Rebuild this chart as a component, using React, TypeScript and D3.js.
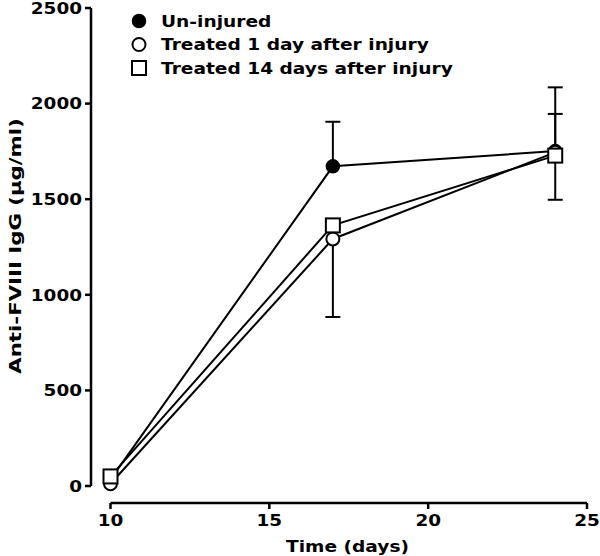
import React from "react";
import * as d3 from "d3";

const days = [10, 17, 24];
const seriesNames = ["Un-injured", "Treated 1 day after injury", "Treated 14 days after injury"];
const seriesMarkers = ["filledCircle", "openCircle", "openSquare"];
const uninjured = [35, 1672, 1752];
const treated1 = [12, 1292, 1745];
const treated14 = [50, 1363, 1728];
// error bar ends as visible in the picture (null = not visible)
const uninjuredErrHigh = [null, 1905, 2085];
const uninjuredErrLow = [null, null, null];
const treated1ErrHigh = [null, null, null];
const treated1ErrLow = [null, 884, 1497];
const treated14ErrHigh = [null, null, 1946];
const treated14ErrLow = [null, null, null];
const yTicks = [0, 500, 1000, 1500, 2000, 2500];
const xTicks = [10, 15, 20, 25];

const W = 600;
const H = 556;
const FONT = "'DejaVu Sans', Verdana, sans-serif";

function SText(props: {
  x: number;
  y: number;
  sx: number;
  size: number;
  anchor?: string;
  rotate?: number;
  children: React.ReactNode;
}) {
  const { x, y, sx, size, anchor = "start", rotate = 0, children } = props;
  return (
    <g transform={`translate(${x},${y}) rotate(${rotate}) scale(${sx},1)`}>
      <text x={0} y={0} dy="0.36em" textAnchor={anchor} fontSize={size} fontWeight="bold">
        {children}
      </text>
    </g>
  );
}

export default function App() {
  const x = d3.scaleLinear().domain([10, 25]).range([110.5, 587]);
  const y = d3.scaleLinear().domain([0, 2500]).range([486, 8]);
  const yAxisX = 91;
  const xAxisY = 503;

  const series = [
    { name: seriesNames[0], marker: seriesMarkers[0], values: uninjured, hi: uninjuredErrHigh, lo: uninjuredErrLow },
    { name: seriesNames[1], marker: seriesMarkers[1], values: treated1, hi: treated1ErrHigh, lo: treated1ErrLow },
    { name: seriesNames[2], marker: seriesMarkers[2], values: treated14, hi: treated14ErrHigh, lo: treated14ErrLow },
  ];

  const line = d3
    .line<number>()
    .x((_, i) => x(days[i]))
    .y((d) => y(d));

  const marker = (type: string, cx: number, cy: number, key: string) => {
    if (type === "filledCircle")
      return <circle key={key} cx={cx} cy={cy} r={6.5} fill="#000" stroke="#000" strokeWidth={1.5} />;
    if (type === "openCircle")
      return <circle key={key} cx={cx} cy={cy} r={6.5} fill="#fff" stroke="#000" strokeWidth={2} />;
    return <rect key={key} x={cx - 7} y={cy - 7} width={14} height={14} fill="#fff" stroke="#000" strokeWidth={2} />;
  };

  const capW = 7.5;

  return (
    <svg width={W} height={H} style={{ position: "absolute", left: 0, top: 0, background: "#fff" }} fontFamily={FONT}>
      <rect x={0} y={0} width={W} height={H} fill="#fff" />
      {/* Y axis */}
      <line x1={yAxisX} x2={yAxisX} y1={y(2500)} y2={y(0)} stroke="#000" strokeWidth={2.5} />
      {yTicks.map((t) => (
        <g key={"yt" + t}>
          <line x1={yAxisX - 6} x2={yAxisX} y1={y(t)} y2={y(t)} stroke="#000" strokeWidth={2.5} />
          <SText x={yAxisX - 9} y={y(t)} sx={1.15} size={16} anchor="end">
            {t}
          </SText>
        </g>
      ))}
      <SText x={15} y={246} sx={1.33} size={16} anchor="middle" rotate={-90}>
        Anti-FVIII IgG (μg/ml)
      </SText>
      {/* X axis */}
      <line x1={x(10)} x2={x(25)} y1={xAxisY} y2={xAxisY} stroke="#000" strokeWidth={2.5} />
      {xTicks.map((t) => (
        <g key={"xt" + t}>
          <line x1={x(t)} x2={x(t)} y1={xAxisY} y2={xAxisY + 6} stroke="#000" strokeWidth={2.5} />
          <SText x={x(t)} y={520} sx={1.15} size={16} anchor="middle">
            {t}
          </SText>
        </g>
      ))}
      <SText x={347.5} y={546} sx={1.2} size={15.5} anchor="middle">
        Time (days)
      </SText>
      {/* lines */}
      {series.map((s) => (
        <path key={"l" + s.name} d={line(s.values) || ""} fill="none" stroke="#000" strokeWidth={2} />
      ))}
      {/* error bars */}
      {series.map((s) =>
        days.map((dd, i) => {
          const cx = x(dd);
          const out: React.ReactNode[] = [];
          const hi = s.hi[i];
          const lo = s.lo[i];
          if (hi != null) {
            out.push(
              <g key={`eh${s.name}${i}`}>
                <line x1={cx} x2={cx} y1={y(s.values[i])} y2={y(hi)} stroke="#000" strokeWidth={2} />
                <line x1={cx - capW} x2={cx + capW} y1={y(hi)} y2={y(hi)} stroke="#000" strokeWidth={2} />
              </g>
            );
          }
          if (lo != null) {
            out.push(
              <g key={`el${s.name}${i}`}>
                <line x1={cx} x2={cx} y1={y(s.values[i])} y2={y(lo)} stroke="#000" strokeWidth={2} />
                <line x1={cx - capW} x2={cx + capW} y1={y(lo)} y2={y(lo)} stroke="#000" strokeWidth={2} />
              </g>
            );
          }
          return out;
        })
      )}
      {/* markers: filled first, open ones drawn on top */}
      {[0, 1, 2].map((si) =>
        series[si].values.map((v, i) => marker(series[si].marker, x(days[i]), y(v), `m${si}-${i}`))
      )}
      {/* legend */}
      {series.map((s, i) => (
        <g key={"lg" + i}>
          {marker(s.marker, 139, 21 + i * 23.5, "lgm" + i)}
          <SText x={161} y={21 + i * 23.5} sx={1.2} size={15.5}>
            {s.name}
          </SText>
        </g>
      ))}
    </svg>
  );
}
